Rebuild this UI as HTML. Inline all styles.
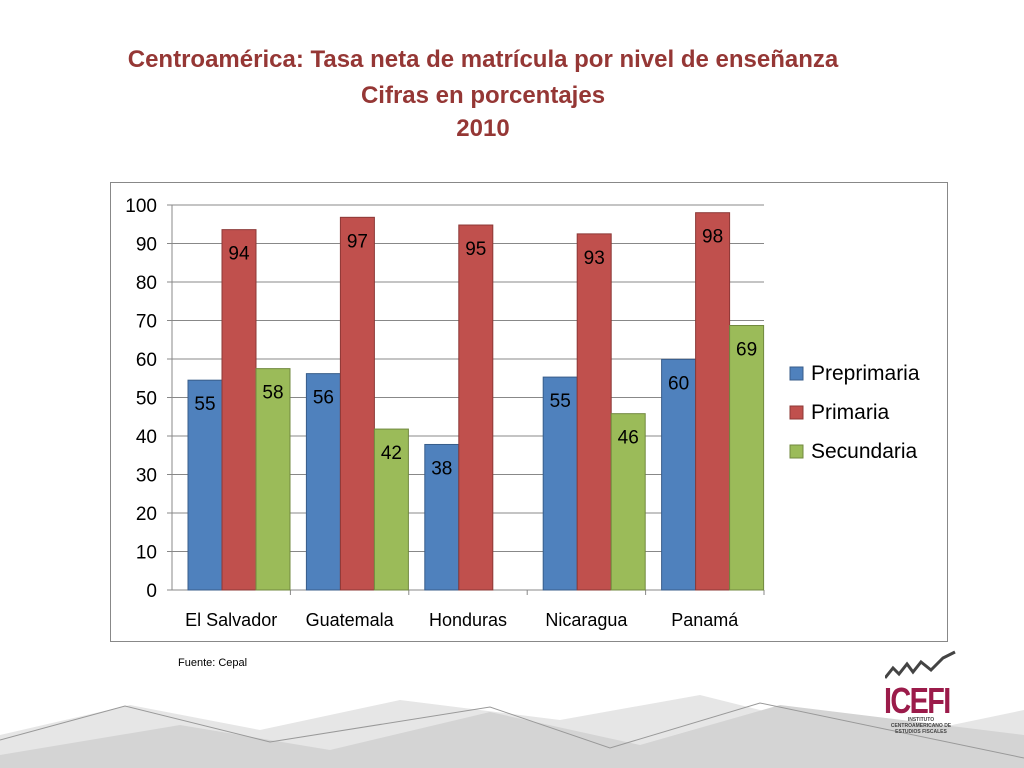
<!DOCTYPE html>
<html><head><meta charset="utf-8">
<style>
body{margin:0;width:1024px;height:768px;background:#fff;font-family:"Liberation Sans",sans-serif;overflow:hidden;position:relative}
.t{position:absolute;left:0;width:966px;text-align:center;color:#953735;font-weight:bold;font-size:24px;font-family:"Liberation Sans Narrow","Liberation Sans",sans-serif}
</style></head><body>
<svg width="1024" height="768" style="position:absolute;left:0;top:0">
<polygon points="0,768 0,735 130,705 260,730 400,700 560,720 700,695 880,740 1024,710 1024,768" fill="#e6e6e6"/>
<polygon points="0,768 0,755 180,725 330,750 490,712 640,745 780,705 1024,735 1024,768" fill="#d4d4d4"/>
<polyline points="0,740 125,706 270,742 490,707 610,748 760,703 1024,758" fill="none" stroke="#999" stroke-width="1"/>
</svg>
<div class="t" style="top:46px">Centroamérica: Tasa neta de matrícula por nivel de enseñanza</div>
<div class="t" style="top:82px">Cifras en porcentajes</div>
<div class="t" style="top:115px">2010</div>
<div style="position:absolute;left:178px;top:657px;font-size:11px">Fuente: Cepal</div>
<div style="position:absolute;left:884px;top:680px;font-size:36px;font-weight:bold;color:#9b1b4a;letter-spacing:-2px;transform:scaleX(0.8);transform-origin:left">ICEFI</div>
<div style="position:absolute;left:886px;top:717px;font-size:5px;font-weight:bold;color:#444;width:70px;text-align:center">INSTITUTO CENTROAMERICANO DE ESTUDIOS FISCALES</div>
<svg width="80" height="30" style="position:absolute;left:885px;top:650px"><polyline points="0,28 8,18 14,24 22,14 28,22 36,12 46,20 58,8 70,2" fill="none" stroke="#444" stroke-width="3"/></svg>
<svg id="c" width="1024" height="768" style="position:absolute;left:0;top:0"></svg>
<script>
const categories=["El Salvador","Guatemala","Honduras","Nicaragua","Panamá"];
const preprimaria=[54.5,56.2,37.8,55.3,59.9];
const primaria=[93.6,96.8,94.8,92.5,98];
const secundaria=[57.5,41.8,null,45.8,68.7];
const labelsPre=["55","56","38","55","60"];
const labelsPri=["94","97","95","93","98"];
const labelsSec=["58","42","","46","69"];
const ticks=[0,10,20,30,40,50,60,70,80,90,100];
const seriesNames=["Preprimaria","Primaria","Secundaria"];
const colors=["#4f81bd","#c0504d","#9bbb59"];
const strokes=["#385d8a","#8c3836","#71893f"];
const svg=document.getElementById('c');
const NS="http://www.w3.org/2000/svg";
const X0=172,X1=764,Y0=590,Y1=205;
const y=v=>Y0-(v/100)*(Y0-Y1);
const gw=(X1-X0)/categories.length;
function mk(t,a,txt){const e=document.createElementNS(NS,t);for(const k in a)e.setAttribute(k,a[k]);if(txt!==undefined)e.textContent=txt;svg.appendChild(e);return e;}
let f=mk('rect',{x:110.5,y:182.5,width:837,height:459,fill:'none',stroke:'#888'});


ticks.forEach(t=>{
 let l=mk('line',{x1:X0-5,x2:X1,y1:y(t),y2:y(t),stroke:'#888','stroke-width':1});
 
 
 let tx=mk('text',{x:157,y:y(t)+7,'text-anchor':'end','font-size':19},String(t));
 
 
});
let ax=mk('line',{x1:X0,x2:X0,y1:Y1,y2:Y0,stroke:'#888'});


const data=[preprimaria,primaria,secundaria],labs=[labelsPre,labelsPri,labelsSec];
categories.forEach((c,i)=>{
 const gx=X0+i*gw;
 let tk=mk('line',{x1:gx+gw,x2:gx+gw,y1:Y0,y2:Y0+5,stroke:'#888'});
 
 
 let xl=mk('text',{x:gx+gw/2,y:626,'text-anchor':'middle','font-size':18},c);
 
 
 data.forEach((s,k)=>{
  if(s[i]==null)return;
  const bx=gx+16+k*34;
  let r=mk('rect',{x:bx,y:y(s[i]),width:34,height:Y0-y(s[i]),fill:colors[k],stroke:strokes[k]});
  
  
  let lt=mk('text',{x:bx+17,y:y(s[i])+30,'text-anchor':'middle','font-size':19},labs[k][i]);
  
  
 });
});
seriesNames.forEach((n,k)=>{
 const ly=373+k*39;
 let sw=mk('rect',{x:790,y:ly-6,width:13,height:13,fill:colors[k],stroke:strokes[k]});
 
 
 let lt=mk('text',{x:811,y:ly+7,'font-size':21},n);
 
 
});
</script>
</body></html>
